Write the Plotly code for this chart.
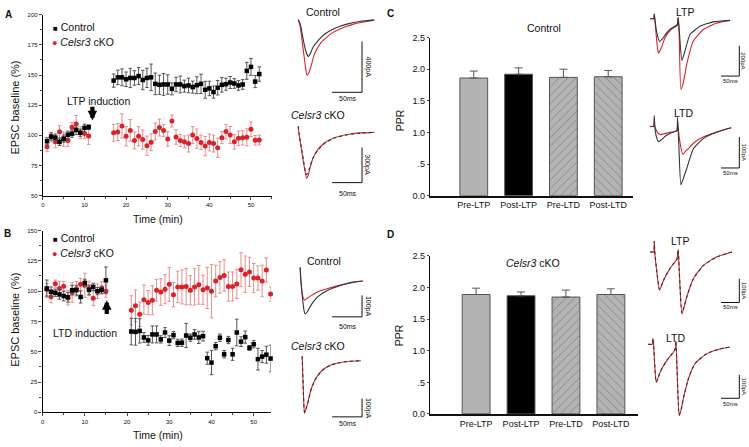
import plotly.graph_objects as go

W, H = 749, 447
FONT = "Liberation Sans, Arial, sans-serif"
RED = "#d8232a"
RED_ERR = "#ec8c8c"
GRAY_ERR = "#555555"

# ---------------- Panel A (LTP) ----------------
a_ctrl_t = list(range(1, 12)) + list(range(17, 53))
a_ctrl_y = [95.1, 99, 98.1, 94.6, 97.3, 100.5, 101.4, 104.6, 102.2, 106.2, 106.8,
            145.4, 148.1, 148.1, 146.5, 147.6, 147.6, 149.2, 145.9, 147.6, 148.1,
            142.7, 141.9, 142.2, 142.2, 138.6, 142.2, 142.2, 140.8, 141.4, 140,
            141.6, 142.7, 137.8, 138.9, 135.9, 139.5, 141.9, 142.4, 143.8, 143,
            141.4, 142.2, 153.5, 156.8, 144.6, 150.8]
a_ctrl_e = [3, 3, 3, 3, 3, 3, 3, 4, 3, 3, 2,
            5.5, 6, 7, 6, 8, 6, 7, 8, 8, 11, 9, 8, 9, 8, 5, 6, 7, 5, 6, 5,
            7, 8, 7, 6, 5, 6, 6, 5, 5, 4, 4, 4, 7, 7, 5, 6]
a_cko_t = list(range(1, 12)) + list(range(17, 53))
a_cko_y = [90.5, 98.6, 94.6, 103, 96.8, 95.7, 106.8, 109.5, 102.2, 101.5, 99.5,
           102.2, 102.7, 107.8, 99.2, 104.1, 95.7, 99.2, 96.5, 91.4, 94.3,
           103.2, 106.5, 104.1, 97, 111.9, 98.6, 95.7, 94.6, 93.2, 100.3,
           97.3, 94.1, 91.1, 94.1, 93.2, 89.7, 98.1, 103.2, 100.3, 94.6,
           97.6, 98.1, 98.4, 105.1, 95.9, 96.2]
a_cko_e = [4, 4, 5, 5, 6, 5, 4, 7, 5, 4, 7,
           7, 7, 10, 8, 9, 7, 8, 8, 8, 7, 7, 7, 5, 6, 5, 6, 5, 5, 7, 7,
           8, 6, 8, 7, 7, 8, 5, 6, 7, 6, 6, 6, 7, 6, 4, 4]

# ---------------- Panel B (LTD) ----------------
b_ctrl_t = list(range(1, 16)) + list(range(21, 55))
b_ctrl_y = [102.2, 99.5, 98.7, 97.3, 96, 95, 100.8, 100.8, 95.2, 106.8, 101, 103.5, 100, 101, 108.9,
            66.7, 66.4, 67.2, 61.8, 59.4, 64.3, 64.3, 60.2, 65.9, 59.2,
            63.7, 57.3, 57.5, 63.4, 61.6, 64.3, 61.8, 62.9, 44.7, 41.1,
            54.6, 61.6, 47.9, 59.7, 47.9, 65.9, 58.4, 62.1, 53.2, 56.2,
            43.9, 46, 47.6, 44.4]
b_ctrl_e = [7, 4, 3, 4, 4, 4, 4, 4, 5, 3, 4, 3, 3, 3, 11,
            11, 11, 10, 4, 4, 7, 7, 3, 4, 4, 3, 3, 3, 10, 3, 4, 5, 4, 5, 10,
            3, 3, 3, 3, 5, 11, 4, 5, 2, 3, 9, 5, 7, 11]
b_cko_t = list(range(1, 16)) + list(range(21, 55))
b_cko_y = [101.3, 95.4, 106.2, 102.2, 104, 94.6, 98.9, 102, 105.6, 104.8, 102.2, 94.1, 100, 102.7, 100,
           84.2, 87.9, 81, 93, 90.6, 92.5, 100.8, 99.2, 101.6, 105.6,
           97.1, 103.5, 103.5, 103.8, 100.8, 103.5, 105.2, 101.1, 102.7, 100,
           108.4, 111.3, 112.9, 103.8, 103.8, 106, 117.7, 114, 115.9, 110.8,
           110.8, 108.4, 117.5, 97.6]
b_cko_e = [5, 5, 3, 6, 4, 6, 8, 6, 5, 10, 6, 6, 6, 5, 5,
           12, 13, 10, 12, 10, 12, 9, 11, 12, 14, 10, 13, 14, 15, 12, 15, 16, 12, 17, 22,
           13, 13, 13, 12, 12, 12, 14, 15, 12, 12, 10, 13, 10, 6]

# ---------------- Panels C / D (PPR) ----------------
ppr_cats = ["Pre-LTP", "Post-LTP", "Pre-LTD", "Post-LTD"]
c_ppr = [1.86, 1.92, 1.87, 1.88]
c_err = [0.11, 0.10, 0.13, 0.10]
d_ppr = [1.89, 1.87, 1.85, 1.89]
d_err = [0.10, 0.06, 0.11, 0.09]
ppr_ticks = [0, 0.5, 1.0, 1.5, 2.0, 2.5]
ppr_ticktext = ["0.0", ".5", "1.0", "1.5", "2.0", "2.5"]

# ---------------- Example EPSC traces (ms, pA) ----------------
ta_ctrl_black_t = [0, 3.3, 7.8, 11.7, 15, 17.2, 20, 25, 32.8, 43.9, 60.5, 82.8, 105, 127]
ta_ctrl_black_i = [0, -31, -141, -231, -277, -290, -269, -215, -167, -115, -69, -33, -13, -2]
ta_ctrl_red_t = [0, 3.3, 8.3, 12.5, 14.5, 17.5, 21.7, 27.2, 38.3, 55, 71.7, 93.9, 116, 127]
ta_ctrl_red_i = [0, -54, -231, -385, -436, -423, -362, -269, -179, -110, -69, -33, -13, -4]

ta_cko_black_t = [0, 1.2, 5, 9.2, 13.3, 15.8, 18.8, 24.5, 32.8, 43.8, 60.5, 82.8, 105, 127]
ta_cko_black_i = [50, -8, -125, -250, -361, -350, -306, -222, -153, -97, -50, -22, -8, -3]
ta_cko_red_t = [0, 1.2, 5, 9.2, 14.2, 16.5, 19, 24.5, 32.8, 43.8, 60.5, 82.8, 105, 127]
ta_cko_red_i = [50, -8, -135, -270, -395, -370, -320, -225, -150, -93, -48, -20, -7, -2]

tb_ctrl_black_t = [0, 0.5, 3.3, 6.2, 8.3, 11.7, 18.3, 29.5, 46.2, 68.3, 90.5, 104.5]
tb_ctrl_black_i = [8, -30, -121, -190, -209, -200, -167, -129, -99, -76, -60, -56]
tb_ctrl_red_t = [0, 1.7, 4.5, 7.2, 11.7, 18.3, 29.5, 46.2, 68.3, 90.5, 104.5]
tb_ctrl_red_i = [8, -76, -129, -145, -136, -124, -106, -91, -74, -62, -56]

tb_cko_black_t = [0, 0.8, 2.2, 3.8, 6.7, 9.5, 15, 23.3, 34.5, 48.3, 70.5, 98.3]
tb_cko_black_i = [20, -64, -198, -287, -262, -234, -162, -100, -55, -28, -11, -5]
tb_cko_red_t = [0, 0.8, 2.2, 3.8, 6.7, 9.5, 15, 23.3, 34.5, 48.3, 70.5, 98.3]
tb_cko_red_i = [20, -60, -195, -292, -265, -232, -158, -98, -54, -27, -10, -5]

tc_ltp_black_t = [0, 9.5, 10.9, 12.3, 17.7, 25.3, 32.7, 43.6, 57.2, 73.6, 76.3, 79, 86.4, 92.6, 109, 136, 172, 218]
tc_ltp_black_i = [0, 0, 30, 0, -90, -150, -135, -97, -65, -39, 8, -71, -275, -232, -103, -50, -21, -11]
tc_ltp_red_t = [0, 9.5, 10.9, 12.3, 19, 22.6, 30, 40.9, 57.2, 73.6, 76.3, 79, 83.7, 90, 100, 118, 145, 182, 218]
tc_ltp_red_i = [0, 0, 30, 0, -181, -228, -194, -123, -71, -45, 8, -103, -465, -426, -297, -146, -71, -28, -11]

tc_ltd_black_t = [0, 9.5, 10.9, 12.3, 16.3, 22.6, 30, 43.6, 57.2, 72.8, 74.4, 77.7, 83.7, 90, 100, 118, 145, 182, 221]
tc_ltd_black_i = [0, 0, 34, 0, -32, -50, -44, -30, -21, -14, 28, -50, -189, -170, -135, -72, -40, -19, -5]
tc_ltd_red_t = [0, 9.5, 10.9, 12.3, 19, 27, 35.4, 49, 72.8, 74.4, 79, 89, 95.4, 104, 122.6, 145, 182, 221]
tc_ltd_red_i = [0, 0, 25, 0, -19, -27, -25, -21, -14, 19, -35, -91, -82, -72, -50, -35, -19, -5]

td_ltp_t = [0, 9.5, 10.9, 12.3, 17.7, 25.3, 36.2, 49.9, 63.5, 72.8, 76.3, 79, 86.4, 92.6, 100, 118, 145, 182, 223]
td_ltp_black_i = [0, 0, 44, 0, -80, -158, -120, -79, -49, -31, 10, -72, -257, -228, -188, -113, -58, -21, -1]
td_ltp_red_i = [0, 0, 44, 0, -82, -161, -121, -80, -50, -31, 10, -75, -262, -231, -188, -112, -57, -21, -1]

td_ltd_t = [0, 10.9, 12.8, 14.4, 17.7, 21.8, 32.7, 51, 69, 73.6, 75.5, 78.5, 84.5, 90, 96.2, 110, 128, 160, 196, 223]
td_ltd_black_i = [0, 0, 25, 0, -88, -161, -117, -68, -33, -20, 15, -96, -300, -275, -228, -145, -82, -40, -20, -12]
td_ltd_red_i = [0, 0, 25, 0, -90, -163, -118, -69, -33, -20, 15, -98, -305, -278, -229, -146, -82, -40, -20, -12]

SCALE_MS = 50

# ---------------------------------------------------------------
def px_x(px):
    return px / W


def px_y(py):
    return 1 - py / H


fig = go.Figure()
layout = dict(width=W, height=H, margin=dict(l=0, r=0, t=0, b=0),
              paper_bgcolor="white", plot_bgcolor="rgba(0,0,0,0)",
              showlegend=False, font=dict(family=FONT, color="#111"))
annotations = []
shapes = []


def ann(text, x, y, size, angle=0, xanchor="center", yanchor="middle", **kw):
    annotations.append(dict(text=text, x=px_x(x), y=px_y(y), xref="paper", yref="paper",
                            showarrow=False, textangle=angle, xanchor=xanchor, yanchor=yanchor,
                            font=dict(size=size, family=FONT, color=kw.get("color", "#111"))))


# ---- main time-course axes ----
def time_axes(n, xpx, ypx, xr, yr, dy):
    xs = "" if n == 1 else str(n)
    layout["xaxis" + xs] = dict(domain=[px_x(xpx[0]), px_x(xpx[1])], range=xr, anchor="y" + xs,
                                showline=True, linecolor="#000", linewidth=1.2, ticks="outside",
                                ticklen=3, tickwidth=1, tick0=0, dtick=10, showgrid=False,
                                zeroline=False, tickfont=dict(size=6),
                                minor=dict(dtick=5, ticks="outside", ticklen=2, tickwidth=1))
    layout["yaxis" + xs] = dict(domain=[px_y(ypx[1]), px_y(ypx[0])], range=yr, anchor="x" + xs,
                                showline=True, linecolor="#000", linewidth=1.2, ticks="outside",
                                ticklen=3, tickwidth=1, dtick=dy, tick0=0, showgrid=False,
                                zeroline=False, tickfont=dict(size=6),
                                minor=dict(dtick=dy / 2, ticks="outside", ticklen=2, tickwidth=1))


time_axes(1, (41, 270.5), (10, 195), [0, 55], [50, 200], 25)
time_axes(2, (40.7, 269.3), (230.7, 416.7), [0, 54], [0, 150], 25)


def add_points(t, y, e, n, kind):
    ax = "" if n == 1 else str(n)
    if kind == "ctrl":
        mk = dict(symbol="square", size=4.5, color="#000")
        ec = GRAY_ERR
    else:
        mk = dict(symbol="circle", size=5, color=RED)
        ec = RED_ERR
    fig.add_trace(go.Scatter(x=t, y=y, mode="markers", marker=mk, xaxis="x" + ax, yaxis="y" + ax,
                             cliponaxis=False,
                             error_y=dict(type="data", array=e, color=ec, thickness=1, width=1.8)))


add_points(a_cko_t, a_cko_y, a_cko_e, 1, "cko")
add_points(a_ctrl_t, a_ctrl_y, a_ctrl_e, 1, "ctrl")
add_points(b_cko_t, b_cko_y, b_cko_e, 2, "cko")
add_points(b_ctrl_t, b_ctrl_y, b_ctrl_e, 2, "ctrl")

# induction arrows (data coordinates)
annotations.append(dict(x=11.9, y=112.5, ax=11.9, ay=125, xref="x", yref="y", axref="x", ayref="y",
                        showarrow=True, arrowhead=2, arrowsize=0.45, arrowwidth=4.2, arrowcolor="#000",
                        text="", standoff=0, startstandoff=0))
annotations.append(dict(x=13.3, y=128.5, xref="x", yref="y", text="LTP induction", showarrow=False,
                        font=dict(size=10.5, family=FONT, color="#111")))
annotations.append(dict(x=15.2, y=92.5, ax=15.2, ay=80, xref="x2", yref="y2", axref="x2", ayref="y2",
                        showarrow=True, arrowhead=2, arrowsize=0.45, arrowwidth=4.2, arrowcolor="#000",
                        text="", standoff=0, startstandoff=0))
annotations.append(dict(x=10, y=65.3, xref="x2", yref="y2", text="LTD induction", showarrow=False,
                        font=dict(size=10.5, family=FONT, color="#111")))

# legends (as text)
ann("<span style='font-size:8px'>■</span> Control", 49, 22.7, 10.5, xanchor="left")
ann("<span style='color:%s;font-size:9px'>●</span> <i>Celsr3</i> cKO" % RED, 48.5, 38, 10.5, xanchor="left")
ann("<span style='font-size:8px'>■</span> Control", 49, 238.3, 10.5, xanchor="left")
ann("<span style='color:%s;font-size:9px'>●</span> <i>Celsr3</i> cKO" % RED, 48.5, 254, 10.5, xanchor="left")

# axis titles
ann("EPSC baseline (%)", 13, 105, 11, angle=-90)
ann("EPSC baseline (%)", 13, 322, 11, angle=-90)
ann("Time (min)", 156, 219, 10.5)
ann("Time (min)", 156, 440, 10.5)

# panel letters
ann("<b>A</b>", 7, 10, 10)
ann("<b>B</b>", 6, 234, 10)
ann("<b>C</b>", 390, 9, 10)
ann("<b>D</b>", 390, 235, 10)


# ---- PPR bar axes ----
def bar_axes(n, xpx, ypx, xr, vals, errs):
    s = str(n)
    layout["xaxis" + s] = dict(domain=[px_x(xpx[0]), px_x(xpx[1])], range=xr, anchor="y" + s,
                               showline=True, linecolor="#111", linewidth=2, ticks="",
                               tickvals=list(range(len(ppr_cats))), ticktext=ppr_cats,
                               tickfont=dict(size=9), showgrid=False, zeroline=False)
    layout["yaxis" + s] = dict(domain=[px_y(ypx[1]), px_y(ypx[0])], range=[0, 2.5], anchor="x" + s,
                               showline=True, linecolor="#111", linewidth=1.2, ticks="outside",
                               ticklen=2, tickvals=ppr_ticks, ticktext=ppr_ticktext,
                               tickfont=dict(size=9), showgrid=False, zeroline=False)
    fig.add_trace(go.Bar(x=list(range(len(ppr_cats))), y=vals, width=0.62, xaxis="x" + s, yaxis="y" + s,
                         marker=dict(color=["#b3b3b3", "#000000", "#b3b3b3", "#b3b3b3"],
                                     line=dict(color="#555", width=1),
                                     pattern=dict(shape=["", "", "/", "\\"], fgcolor="#555",
                                                  size=6, solidity=0.12, fillmode="overlay")),
                         error_y=dict(type="data", array=errs, arrayminus=[0] * len(errs),
                                      symmetric=False, color="#555", thickness=1, width=4)))


bar_axes(3, (429, 633), (33.3, 195), [-0.98, 3.56], c_ppr, c_err)
bar_axes(4, (429, 638), (256.7, 418.3), [-1.03, 3.61], d_ppr, d_err)
ann("PPR", 399, 118, 10.5, angle=-90)
ann("PPR", 399, 338, 10.5, angle=-90)
ann("Control", 543, 24, 10.5)
ann("<i>Celsr3</i> cKO", 532, 264, 10.5)

# ---- example traces ----
panels = [
    (5, (292, 5, 378, 100), 297, 15, 0.6, 0.13, 400, (361, 89.3), "Control", (321.7, 7.5),
     (366.5, 63.5), (346.5, 95.5), 7,
     [(ta_ctrl_red_t, ta_ctrl_red_i, RED, "solid"), (ta_ctrl_black_t, ta_ctrl_black_i, "#333", "solid")]),
    (6, (292, 115, 378, 195), 297, 130, 0.6, 0.12, 300, (361, 181.7), "<i>Celsr3</i> cKO", (316.7, 112.7),
     (366.5, 163.5), (346.5, 192.5), 7,
     [(ta_cko_red_t, ta_cko_red_i, RED, "solid"), (ta_cko_black_t, ta_cko_black_i, "#333", "dot")]),
    (7, (292, 262, 378, 335), 299, 270, 0.6, 0.22, 100, (361, 319), "Control", (323.3, 261.7),
     (366.5, 308.3), (346.5, 329), 7,
     [(tb_ctrl_red_t, tb_ctrl_red_i, RED, "solid"), (tb_ctrl_black_t, tb_ctrl_black_i, "#333", "solid")]),
    (8, (292, 350, 378, 430), 301, 363, 0.6, 0.187, 100, (361, 421.3), "<i>Celsr3</i> cKO", (316.7, 348.3),
     (366.5, 412.7), (346.5, 428), 7,
     [(tb_cko_red_t, tb_cko_red_i, RED, "solid"), (tb_cko_black_t, tb_cko_black_i, "#333", "dot")]),
    (9, (645, 3, 747, 100), 650, 14, 0.367, 0.155, 200, (739.3, 72.7), "LTP", (685, 7),
     (743.5, 57), (730, 77.5), 6,
     [(tc_ltp_red_t, tc_ltp_red_i, RED, "solid"), (tc_ltp_black_t, tc_ltp_black_i, "#333", "solid")]),
    (10, (645, 105, 747, 190), 650, 124, 0.367, 0.317, 100, (739.3, 166.7), "LTD", (683.3, 110),
     (743.5, 150.5), (730, 171.7), 6,
     [(tc_ltd_red_t, tc_ltd_red_i, RED, "solid"), (tc_ltd_black_t, tc_ltd_black_i, "#333", "solid")]),
    (11, (645, 235, 747, 320), 650, 252.5, 0.367, 0.243, 100, (739.3, 304.3), "LTP", (680, 241.7),
     (743.5, 292), (730, 308.5), 6,
     [(td_ltp_t, td_ltp_red_i, RED, "solid"), (td_ltp_t, td_ltp_black_i, "#333", "dot")]),
    (12, (645, 335, 747, 425), 648, 347, 0.367, 0.24, 100, (739.3, 402.3), "LTD", (675, 341),
     (743.5, 390), (730, 408.5), 6,
     [(td_ltd_t, td_ltd_red_i, RED, "solid"), (td_ltd_t, td_ltd_black_i, "#333", "dot")]),
]

for (n, box, x0, y0, sx, sy, amp, corner, title, tpos, vpos, hpos, lsize, traces) in panels:
    l, t, r, b = box
    s = str(n)
    layout["xaxis" + s] = dict(domain=[px_x(l), px_x(r)], range=[(l - x0) / sx, (r - x0) / sx],
                               anchor="y" + s, visible=False, fixedrange=True)
    layout["yaxis" + s] = dict(domain=[px_y(b), px_y(t)], range=[(y0 - b) / sy, (y0 - t) / sy],
                               anchor="x" + s, visible=False, fixedrange=True)
    for (tt, ii, col, dash) in traces:
        fig.add_trace(go.Scatter(x=tt, y=ii, mode="lines", xaxis="x" + s, yaxis="y" + s,
                                 line=dict(color=col, width=1.1, dash=dash, shape="spline", smoothing=0.5)))
    tc = (corner[0] - x0) / sx
    ic = (y0 - corner[1]) / sy
    shapes.append(dict(type="path", xref="x" + s, yref="y" + s,
                       path="M %f %f L %f %f L %f %f" % (tc - SCALE_MS, ic, tc, ic, tc, ic + amp),
                       line=dict(color="#111", width=1)))
    ann(title, tpos[0], tpos[1], 10.5)
    ann("%dpA" % amp, vpos[0], vpos[1], lsize, angle=90)
    ann("%dms" % SCALE_MS, hpos[0], hpos[1], lsize)

layout["annotations"] = annotations
layout["shapes"] = shapes
fig.update_layout(**layout)
fig.write_html("out.html", config={"displayModeBar": False},
               post_script="document.body.style.margin='0';document.body.style.padding='0';"
                           "document.documentElement.style.overflow='hidden';")
